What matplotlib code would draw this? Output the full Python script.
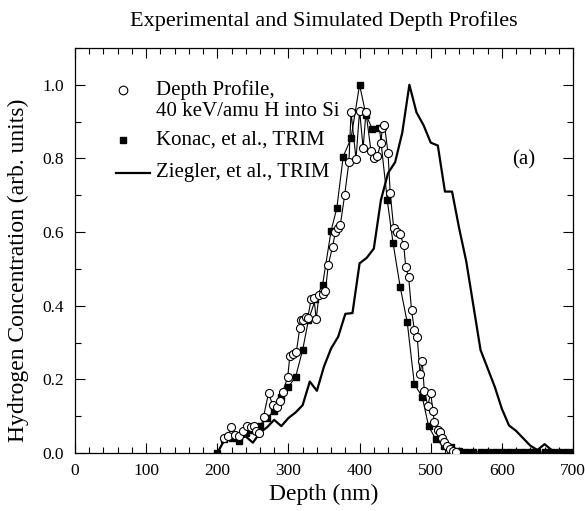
import numpy as np
import matplotlib
matplotlib.use("Agg")
from matplotlib import pyplot as plt
from matplotlib.ticker import MultipleLocator, FormatStrFormatter

plt.rcParams['font.family'] = ['Liberation Serif', 'DejaVu Serif']

# experimental depth profile (open circles)
exp_depth = [210, 215, 219, 225, 230, 236, 242, 247, 251, 255, 259, 265, 272, 278,
             284, 288, 292, 299, 302, 306, 311, 316, 318, 321, 324, 327, 332, 336,
             339, 343, 349, 352, 356, 362, 366, 370, 373, 379, 385, 388, 395, 400,
             405, 409, 416, 420, 425, 430, 432, 435, 440, 443, 448, 453, 457, 462,
             465, 469, 473, 477, 481, 485, 488, 491, 496, 500, 503, 505, 510, 513,
             516, 519, 523, 527, 531, 536]
exp_conc = [0.04, 0.045, 0.07, 0.05, 0.045, 0.061, 0.073, 0.07, 0.072, 0.06, 0.053,
            0.099, 0.162, 0.13, 0.124, 0.14, 0.167, 0.206, 0.264, 0.27, 0.273, 0.34,
            0.36, 0.36, 0.37, 0.366, 0.418, 0.42, 0.363, 0.43, 0.431, 0.44, 0.511,
            0.56, 0.6, 0.61, 0.62, 0.70, 0.79, 0.926, 0.798, 0.93, 0.828, 0.926,
            0.82, 0.80, 0.807, 0.843, 0.882, 0.891, 0.814, 0.707, 0.61, 0.6, 0.594,
            0.565, 0.504, 0.477, 0.389, 0.334, 0.316, 0.214, 0.251, 0.169, 0.128,
            0.164, 0.115, 0.085, 0.0625, 0.058, 0.04, 0.031, 0.02, 0.012, 0.006, 0.003]

# Konac et al. TRIM (filled squares)
konac_depth = [200, 210, 220, 230, 240, 250, 260, 270, 280, 290, 300, 310, 320, 328,
               338, 348, 360, 368, 377, 388, 400, 409, 418, 428, 439, 447, 457, 467,
               477, 488, 497, 507, 518, 528, 540, 550, 560, 570, 580, 590, 600, 610,
               620, 630, 640, 650, 660, 670, 680, 690, 700]
konac_conc = [0.0, 0.038, 0.040, 0.033, 0.053, 0.062, 0.072, 0.095, 0.115, 0.151,
              0.18, 0.206, 0.28, 0.36, 0.418, 0.457, 0.604, 0.665, 0.805, 0.855, 1.0,
              0.918, 0.88, 0.882, 0.686, 0.571, 0.452, 0.355, 0.187, 0.153, 0.073,
              0.037, 0.019, 0.015, 0.006, 0.004, 0.004, 0.003, 0.003, 0.003, 0.003,
              0.003, 0.003, 0.003, 0.003, 0.003, 0.003, 0.003, 0.003, 0.003, 0.003]

# Ziegler et al. TRIM (solid line)
zieg_depth = list(range(200, 710, 10))
zieg_conc = [0.0, 0.035, 0.04, 0.04, 0.045, 0.028, 0.055, 0.07, 0.09, 0.073,
             0.095, 0.11, 0.13, 0.194, 0.169, 0.235, 0.284, 0.316, 0.378, 0.38,
             0.515, 0.53, 0.555, 0.687, 0.76, 0.79, 0.87, 1.0, 0.925, 0.89,
             0.843, 0.835, 0.71, 0.71, 0.61, 0.52, 0.40, 0.28, 0.23, 0.18,
             0.12, 0.075, 0.06, 0.04, 0.02, 0.008, 0.024, 0.008, 0.002, 0.0, 0.0]

labels = ["Depth Profile,\n40 keV/amu H into Si", "Konac, et al., TRIM", "Ziegler, et al., TRIM"]

fig = plt.figure(figsize=(5.85, 5.11), dpi=100)
ax = fig.add_axes([0.1282, 0.1135, 0.8513, 0.7926])

ax.plot(zieg_depth, zieg_conc, color='black', lw=1.6, zorder=2)
ax.plot(konac_depth, konac_conc, color='black', lw=0.8, marker='s', ms=4.3,
        mfc='black', mec='black', zorder=3)
ax.plot(exp_depth, exp_conc, color='black', lw=0.8, marker='o', ms=5.8,
        mfc='white', mec='black', mew=0.8, zorder=4)

# hand made legend
fs = 15
ax.plot([68], [0.986], marker='o', ms=6.2, mfc='white', mec='black', mew=0.8, ls='none')
ax.text(114, 1.012, labels[0], fontsize=fs, va='top', ha='left', linespacing=1.1)
ax.plot([68], [0.851], marker='s', ms=4.5, color='black', ls='none')
ax.text(114, 0.851, labels[1], fontsize=fs, va='center', ha='left')
ax.plot([58, 105], [0.761, 0.761], color='black', lw=1.6)
ax.text(114, 0.761, labels[2], fontsize=fs, va='center', ha='left')

ax.text(615, 0.795, "(a)", fontsize=fs, va='center', ha='left')

ax.set_xlim(0, 700)
ax.set_ylim(0, 1.1)
ax.xaxis.set_major_locator(MultipleLocator(100))
ax.xaxis.set_minor_locator(MultipleLocator(20))
ax.yaxis.set_major_locator(MultipleLocator(0.2))
ax.yaxis.set_minor_locator(MultipleLocator(0.1))
ax.yaxis.set_major_formatter(FormatStrFormatter('%.1f'))
ax.tick_params(which='both', direction='in', top=True, right=True, width=0.8,
               labelsize=12.5)
ax.tick_params(which='major', length=7.5)
ax.tick_params(which='minor', length=4)
ax.tick_params(axis='x', which='major', pad=7)
ax.tick_params(axis='y', which='major', pad=8)
for s in ax.spines.values():
    s.set_linewidth(0.9)

ax.set_xlabel("Depth (nm)", fontsize=17, labelpad=4)
ax.set_ylabel("Hydrogen Concentration (arb. units)", fontsize=17)
ax.yaxis.set_label_coords(-0.093, 0.45)
fig.text(0.1282 + 0.8513 / 2, 0.958, "Experimental and Simulated Depth Profiles",
         fontsize=16, ha='center', va='center')

fig.savefig("out.png", dpi=100)
